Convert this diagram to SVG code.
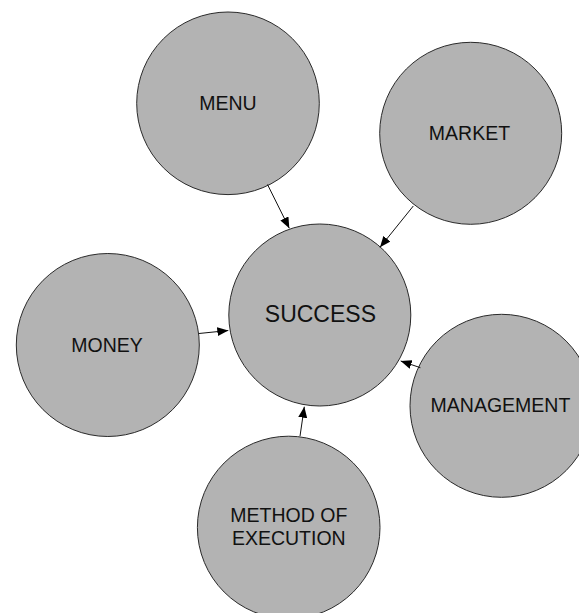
<svg xmlns="http://www.w3.org/2000/svg" width="579" height="613" viewBox="0 0 579 613">
<style>
.node{fill:#b3b3b3;stroke:#2a2a2a;stroke-width:1}
.lbl{font-family:"Liberation Sans",Arial,sans-serif;font-size:19.5px;fill:#111;text-anchor:middle}
.big{font-size:23px}
.edge{stroke:#111;stroke-width:1;fill:none;marker-end:url(#ah)}
</style>
<defs>
<marker id="ah" markerWidth="11" markerHeight="9" refX="11" refY="4.5" orient="auto" markerUnits="userSpaceOnUse">
<path d="M0,0 L11,4.5 L0,9 Z" fill="#000"/>
</marker>
</defs>
<rect width="579" height="613" fill="#fff"/>
<g id="menu"><circle class="node" cx="228" cy="103.3" r="91.3"/><text class="lbl" x="228" y="109.5">MENU</text></g>
<g id="market"><circle class="node" cx="470.7" cy="133.3" r="91"/><text class="lbl" x="469.5" y="140">MARKET</text></g>
<g id="success"><circle class="node" cx="319.8" cy="315" r="91"/><text class="lbl big" x="320.4" y="321.7">SUCCESS</text></g>
<g id="money"><circle class="node" cx="107.8" cy="345" r="91.5"/><text class="lbl" x="107" y="351.7">MONEY</text></g>
<g id="management"><circle class="node" cx="501.5" cy="405.8" r="91.5"/><text class="lbl" x="500.5" y="411.7">MANAGEMENT</text></g>
<g id="method"><circle class="node" cx="288.7" cy="527.5" r="91.3"/><text class="lbl" x="288.8" y="521.7">METHOD OF</text><text class="lbl" x="288.8" y="545">EXECUTION</text></g>
<g id="connectors">
<line class="edge" x1="267.5" y1="184.5" x2="289.3" y2="228.3"/>
<line class="edge" x1="413.3" y1="206" x2="380" y2="247.3"/>
<line class="edge" x1="198.9" y1="333.5" x2="228.3" y2="330.5"/>
<line class="edge" x1="420.4" y1="367.7" x2="400.7" y2="361"/>
<line class="edge" x1="300" y1="436.2" x2="304.3" y2="406.7"/>
</g>
</svg>
